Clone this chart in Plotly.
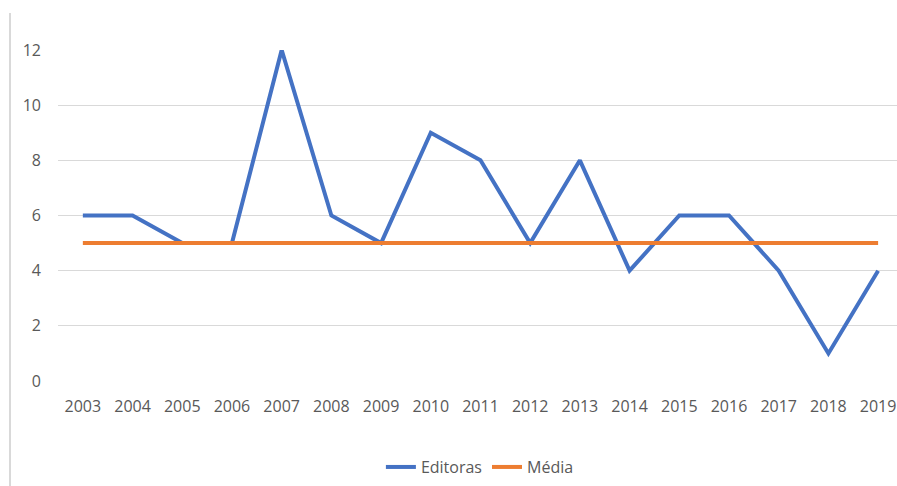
import plotly.graph_objects as go

anos = ["2003", "2004", "2005", "2006", "2007", "2008", "2009", "2010", "2011",
        "2012", "2013", "2014", "2015", "2016", "2017", "2018", "2019"]
editoras = [6, 6, 5, 5, 12, 6, 5, 9, 8, 5, 8, 4, 6, 6, 4, 1, 4]
media = [5] * len(anos)

azul = "#4472C4"
laranja = "#ED7D31"
fonte = dict(family="Open Sans, Noto Sans, sans-serif", size=16, color="#595959")

fig = go.Figure()
fig.add_trace(go.Scatter(x=anos, y=editoras, mode="lines", name="Editoras",
                         line=dict(color=azul, width=4), cliponaxis=False))
fig.add_trace(go.Scatter(x=anos, y=media, mode="lines", name="Média",
                         line=dict(color=laranja, width=4), cliponaxis=False))

fig.update_layout(
    width=897, height=486,
    margin=dict(l=58, r=0, t=50, b=105),
    paper_bgcolor="white", plot_bgcolor="white",
    font=fonte,
    showlegend=True,
    legend=dict(orientation="h", xref="container", yref="container",
                x=0.535, y=0.039, xanchor="center", yanchor="middle",
                font=fonte, itemwidth=30, tracegroupgap=0),
    xaxis=dict(type="category", range=[-0.5, 16.38], showgrid=False,
               zeroline=False, showline=False, ticks="",
               tickfont=fonte, ticklabelstandoff=14),
    yaxis=dict(range=[0, 12], tickvals=[0, 2, 4, 6, 8, 10, 12],
               showgrid=True, gridcolor="#D9D9D9", gridwidth=1,
               zeroline=False, showline=False, ticks="",
               tickfont=fonte, ticklabelstandoff=16),
)

# thin frame line at the left edge
fig.add_shape(type="line", xref="paper", yref="paper",
              x0=-48 / 839, x1=-48 / 839, y0=-105 / 331, y1=(381 - 13) / 331,
              line=dict(color="#D9D9D9", width=2))

fig.write_html("out.html")
